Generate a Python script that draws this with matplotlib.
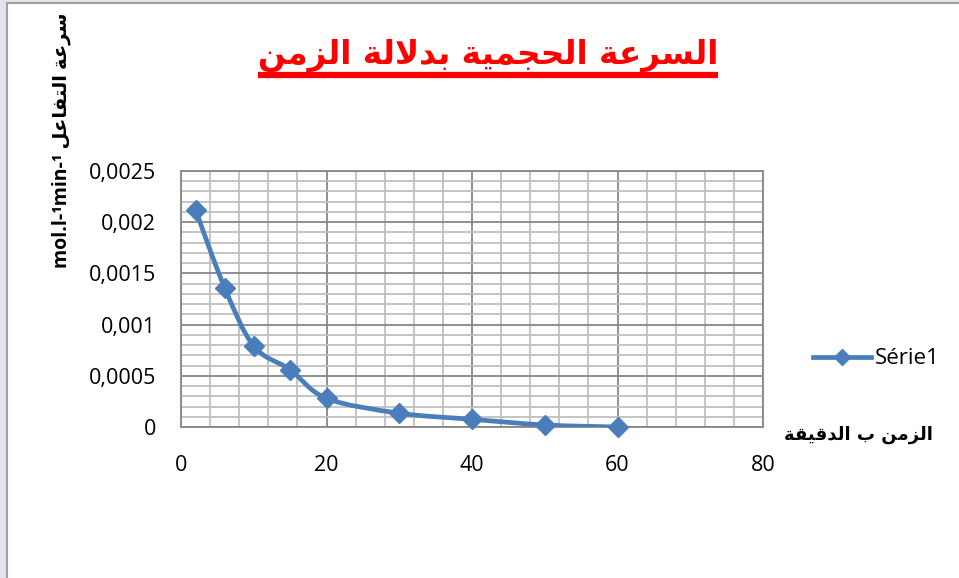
import numpy as np
import matplotlib
matplotlib.use("Agg")
import matplotlib.pyplot as plt
from matplotlib.path import Path
from matplotlib.patches import PathPatch, Rectangle
from matplotlib.lines import Line2D
from matplotlib.ticker import MultipleLocator, FuncFormatter

# time (min) and volumetric rate (mol.l-1.min-1)
t_min = [2, 6, 10, 15, 20, 30, 40, 50, 60]
rate = [0.00212, 0.00136, 0.00079, 0.00056, 0.00028, 0.000135, 0.000075, 0.00002, 0.0]

title_txt = "السرعة الحجمية بدلالة الزمن"
ylab_ar = "سرعة التفاعل"
ylab_unit = "mol.l-¹min-¹"
xlab_txt = "الزمن ب الدقيقة"
series_name = "Série1"

# --- minimal arabic shaping (matplotlib has no text shaping) ---
FORMS = {  # isolated, final, initial, medial
    "ا": (0xFE8D, 0xFE8E, None, None),
    "ب": (0xFE8F, 0xFE90, 0xFE91, 0xFE92),
    "ة": (0xFE93, 0xFE94, None, None),
    "ت": (0xFE95, 0xFE96, 0xFE97, 0xFE98),
    "ج": (0xFE9D, 0xFE9E, 0xFE9F, 0xFEA0),
    "ح": (0xFEA1, 0xFEA2, 0xFEA3, 0xFEA4),
    "د": (0xFEA9, 0xFEAA, None, None),
    "ر": (0xFEAD, 0xFEAE, None, None),
    "ز": (0xFEAF, 0xFEB0, None, None),
    "س": (0xFEB1, 0xFEB2, 0xFEB3, 0xFEB4),
    "ع": (0xFEC9, 0xFECA, 0xFECB, 0xFECC),
    "ف": (0xFED1, 0xFED2, 0xFED3, 0xFED4),
    "ق": (0xFED5, 0xFED6, 0xFED7, 0xFED8),
    "ل": (0xFEDD, 0xFEDE, 0xFEDF, 0xFEE0),
    "م": (0xFEE1, 0xFEE2, 0xFEE3, 0xFEE4),
    "ن": (0xFEE5, 0xFEE6, 0xFEE7, 0xFEE8),
    "ي": (0xFEF1, 0xFEF2, 0xFEF3, 0xFEF4),
}


def dual(c):
    return c in FORMS and FORMS[c][2] is not None


def shape_ar(s):
    # lam-alef ligature first, kept as a single right-joining unit
    units = []
    i = 0
    while i < len(s):
        if s[i] == "ل" and i + 1 < len(s) and s[i + 1] == "ا":
            units.append("LA")
            i += 2
        else:
            units.append(s[i])
            i += 1
    out = []
    for k, u in enumerate(units):
        prev = units[k - 1] if k > 0 else " "
        nxt = units[k + 1] if k + 1 < len(units) else " "
        join_prev = dual(prev)
        if u == "LA":
            out.append(chr(0xFEFC if join_prev else 0xFEFB))
            continue
        if u not in FORMS:
            out.append(u)
            continue
        join_next = dual(u) and (nxt in FORMS or nxt == "LA")
        iso, fin, ini, med = FORMS[u]
        if join_prev and join_next:
            out.append(chr(med))
        elif join_prev:
            out.append(chr(fin))
        elif join_next:
            out.append(chr(ini))
        else:
            out.append(chr(iso))
    return "".join(out)[::-1]


blue = "#4A7EBB"
fig = plt.figure(figsize=(9.59, 5.78), dpi=100)
fig.patch.set_facecolor("#E6E2EC")
W, H = 959, 578

# white chart area with grey frame
fig.add_artist(Rectangle((7 / W, -0.1), 1.2, (H - 3) / H + 0.1, transform=fig.transFigure,
                         facecolor="white", edgecolor="#A0A0A0", linewidth=1.5, zorder=0))

ax = fig.add_axes([181 / W, 151 / H, (763 - 181) / W, (427 - 171) / H])
ax.set_xlim(0, 80)
ax.set_ylim(0, 0.0025)
ax.xaxis.set_major_locator(MultipleLocator(20))
ax.xaxis.set_minor_locator(MultipleLocator(4))
ax.yaxis.set_major_locator(MultipleLocator(0.0005))
ax.yaxis.set_minor_locator(MultipleLocator(0.0001))
ax.yaxis.set_major_formatter(FuncFormatter(lambda v, p: f"{v:g}".replace(".", ",")))
ax.grid(which="minor", color="#BFBFBF", linewidth=1.3)
ax.grid(which="major", color="#878787", linewidth=1.3)
ax.set_axisbelow(True)
ax.tick_params(which="both", length=0)
ax.tick_params(axis="x", pad=20, labelsize=15.5)
ax.tick_params(axis="y", pad=18, labelsize=15.5)
for lab in ax.get_xticklabels() + ax.get_yticklabels():
    lab.set_fontfamily("Open Sans")
for sp in ax.spines.values():
    sp.set_color("#878787")
    sp.set_linewidth(1.3)

# smoothed curve through the points (cubic bezier, catmull-rom style)
pts = np.column_stack([t_min, rate])
verts = [pts[0]]
codes = [Path.MOVETO]
n = len(pts)
for i in range(n - 1):
    p0 = pts[i - 1] if i > 0 else pts[i]
    p1, p2 = pts[i], pts[i + 1]
    p3 = pts[i + 2] if i + 2 < n else pts[i + 1]
    verts += [p1 + (p2 - p0) / 6, p2 - (p3 - p1) / 6, p2]
    codes += [Path.CURVE4] * 3
ax.add_patch(PathPatch(Path(verts, codes), fill=False, edgecolor=blue, linewidth=3.4,
                       capstyle="round", joinstyle="round", zorder=3))
ax.plot(t_min, rate, linestyle="none", marker="D", markersize=10.5, color=blue, zorder=4,
        clip_on=False)

handle = Line2D([], [], color=blue, linewidth=3.4, marker="D", markersize=8.5)
leg = fig.legend([handle], [series_name], loc="center left", bbox_to_anchor=(793 / W, (H - 359) / H),
                 frameon=False, handlelength=2.6, handletextpad=0.2,
                 prop={"family": "Open Sans", "size": 16})

# titles and axis labels
title = fig.text(488 / W, (H - 55) / H, shape_ar(title_txt), ha="center", va="center",
                 color="red", fontsize=23.5, fontweight="bold", family=["DejaVu Sans"])
fig.text(62 / W, (H - 268) / H, ylab_unit + " " + shape_ar(ylab_ar), rotation=90,
         rotation_mode="anchor", ha="left", va="center", fontsize=14, fontweight="bold",
         family=["Open Sans", "DejaVu Sans"])
fig.text(858 / W, (H - 435) / H, shape_ar(xlab_txt), ha="center", va="center",
         fontsize=13, fontweight="bold", family=["DejaVu Sans"])

# underline below the title
fig.canvas.draw()
bb = title.get_window_extent()
fig.add_artist(Line2D([bb.x0 / W, bb.x1 / W], [(H - 75) / H] * 2, transform=fig.transFigure,
                      color="red", linewidth=4.5, solid_capstyle="butt"))

fig.savefig("out.png", dpi=100)
